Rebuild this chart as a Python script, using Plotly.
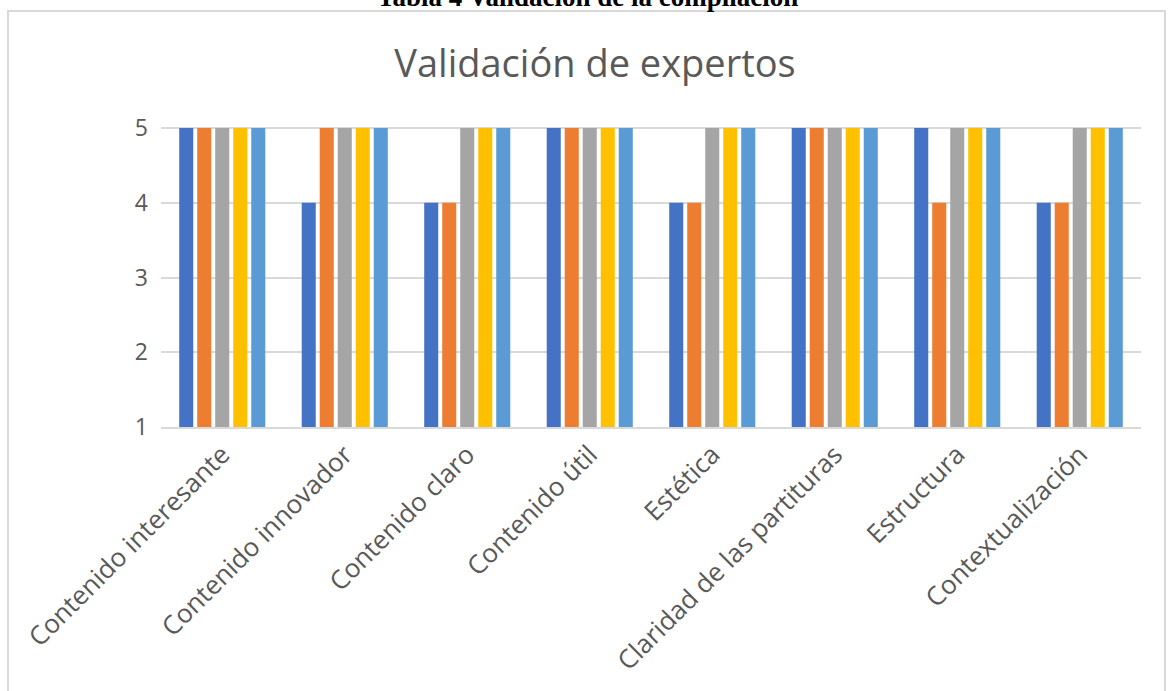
import plotly.graph_objects as go

categories = ["Contenido interesante", "Contenido innovador", "Contenido claro",
              "Contenido útil", "Estética", "Claridad de las partituras",
              "Estructura", "Contextualización"]
serie_1 = [5, 4, 4, 5, 4, 5, 5, 4]
serie_2 = [5, 5, 4, 5, 4, 5, 4, 4]
serie_3 = [5, 5, 5, 5, 5, 5, 5, 5]
serie_4 = [5, 5, 5, 5, 5, 5, 5, 5]
serie_5 = [5, 5, 5, 5, 5, 5, 5, 5]
series_names = ["Experto 1", "Experto 2", "Experto 3", "Experto 4", "Experto 5"]
y_ticks = [1, 2, 3, 4, 5]

colors = ["#4472C4", "#ED7D31", "#A5A5A5", "#FFC000", "#5B9BD5"]
all_series = [serie_1, serie_2, serie_3, serie_4, serie_5]

fig = go.Figure()
for name, vals, col in zip(series_names, all_series, colors):
    fig.add_trace(go.Bar(x=categories, y=vals, name=name, marker_color=col,
                         marker_line_width=0, showlegend=False))

W, H = 1168, 691
L, R, T, B = 161, 27, 128, 264
pw, ph = W - L - R, H - T - B

def px_x(px):
    return (px - L) / pw

def px_y(py):
    return 1 + (T - py) / ph

fig.update_layout(
    width=W, height=H,
    margin=dict(l=L, r=R, t=T, b=B, autoexpand=False),
    paper_bgcolor="white", plot_bgcolor="white",
    barmode="group", bargap=0.265, bargroupgap=0.22,
    font=dict(family="Open Sans", color="#595959"),
    title=dict(text="Validación de expertos", x=595 / W,
               xanchor="center", y=1 - 64 / H, yanchor="middle",
               font=dict(size=38, color="#595959", family="Open Sans")),
    xaxis=dict(tickangle=-45, tickfont=dict(size=26, color="#595959"),
               showline=True, linecolor="#D9D9D9", linewidth=2,
               ticks="", showgrid=False),
    yaxis=dict(range=[1, 5], tickvals=y_ticks, tickfont=dict(size=23, color="#595959"),
               showgrid=True, gridcolor="#D9D9D9", gridwidth=2,
               zeroline=False, showline=False, ticklabelstandoff=12),
    shapes=[
        dict(type="rect", xref="paper", yref="paper",
             x0=px_x(8), x1=px_x(1165), y0=px_y(720), y1=px_y(11),
             line=dict(color="#D9D9D9", width=2), fillcolor="rgba(0,0,0,0)", layer="below"),
        dict(type="line", xref="paper", yref="paper",
             x0=0, x1=1, y0=1, y1=1, line=dict(color="#D9D9D9", width=2), layer="below"),
    ],
    annotations=[
        dict(text="<b>Tabla 4 Validación de la compilación</b>", xref="paper", yref="paper",
             x=px_x(587), y=px_y(-3.5), xanchor="center", yanchor="middle", showarrow=False,
             font=dict(family="Liberation Serif", size=27, color="black")),
    ],
)

fig.write_html("out.html", config={"displayModeBar": False},
               post_script="document.body.style.margin='0';document.body.style.overflow='hidden';")
